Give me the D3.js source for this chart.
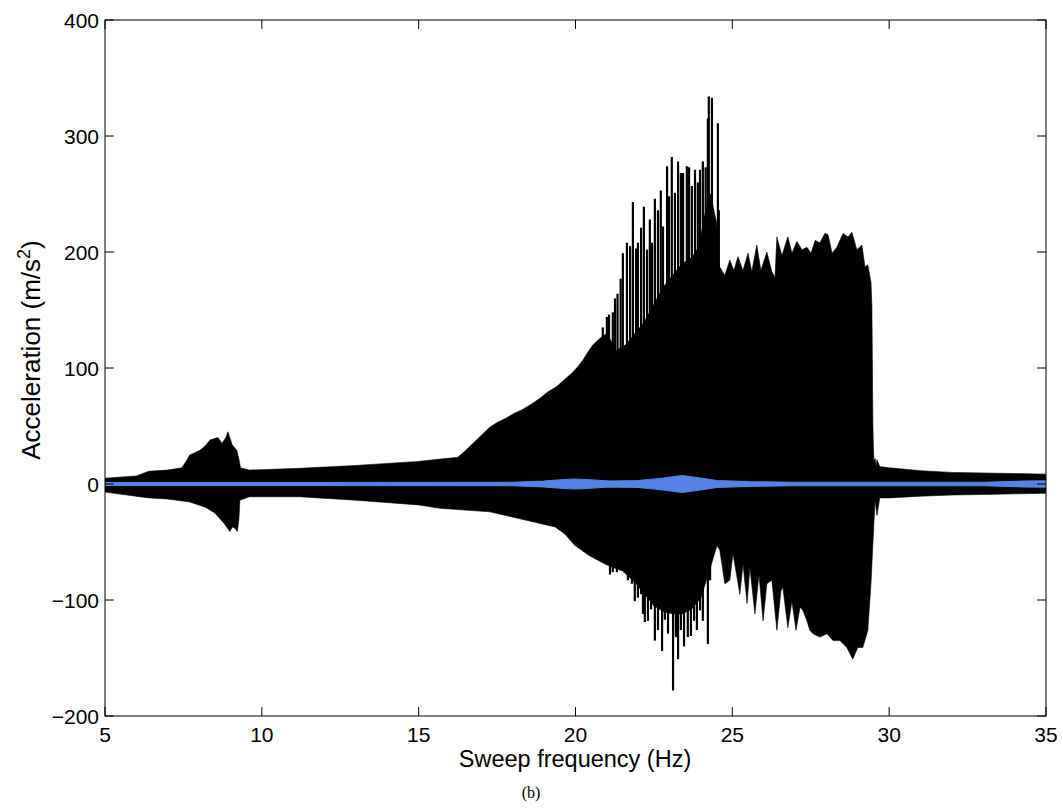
<!DOCTYPE html>
<html>
<head>
<meta charset="utf-8">
<script src="https://cdn.jsdelivr.net/npm/d3@7"></script>
<style>
  body { margin: 0; background: #fff; }
  svg { display: block; }
</style>
</head>
<body>
<script>
// upper envelope of the black (measured) trace, frequency in Hz
const upperFreq = [5.0, 6.0, 6.4, 7.0, 7.45, 7.6, 7.7, 8.03, 8.2, 8.35, 8.6, 8.73, 8.85, 8.92, 9.05, 9.2, 9.28, 9.32, 9.6,
  11.2, 13.0, 15.0, 15.7, 16.25, 16.5, 16.73, 17.0, 17.27, 17.5, 17.8, 18.05, 18.3, 18.6, 18.87, 19.1, 19.4, 19.65, 19.9,
  20.1, 20.24, 20.4, 20.56, 20.8, 21.0, 21.3, 21.6, 21.9, 22.2, 22.5, 22.8, 23.1, 23.4, 23.7, 23.95, 24.1, 24.3, 24.5, 24.57,
  24.60, 24.76, 24.92, 25.05, 25.18, 25.34, 25.50, 25.62, 25.78, 25.91, 26.10, 26.26, 26.36, 26.42, 26.58, 26.77, 26.90,
  27.06, 27.22, 27.38, 27.51, 27.64, 27.79, 27.95, 28.05, 28.18, 28.33, 28.53, 28.69, 28.81, 28.97, 29.13, 29.23, 29.32,
  29.42, 29.45, 29.48, 29.51, 29.55, 29.58, 29.61, 29.7, 30.0, 31.0, 32.0, 33.0, 34.0, 35.0];
const upperVal = [5, 7, 11, 12, 14, 20, 25, 29, 33, 38, 40, 35, 40, 45, 34, 29, 20, 14, 12,
  13.5, 16, 19.5, 21.5, 23, 29, 35, 42, 49, 53, 57, 61, 64, 69, 74, 79, 84, 90, 96,
  102, 107, 114, 120, 126, 130, 115, 120, 130, 140, 155, 170, 180, 190, 195, 205, 230, 250, 225, 190,
  187, 180, 193, 184, 196, 184, 199, 183, 206, 184, 200, 183, 178, 213, 197, 213, 199,
  209, 202, 204, 199, 210, 208, 216, 215, 199, 204, 216, 213, 217, 202, 206, 187, 189,
  174, 153, 52, 20, 22, 15, 21, 15, 14, 11.5, 10, 9.5, 9, 8.5];

// lower envelope of the black trace
const lowerFreq = [5.0, 6.4, 7.0, 7.7, 8.2, 8.5, 8.8, 8.98, 9.06, 9.14, 9.22, 9.27, 9.3, 9.6,
  11.2, 13.0, 15.0, 15.68, 17.27, 18.23, 18.87, 19.35, 19.66, 19.98, 20.46, 20.94, 21.2, 21.5, 21.9, 22.2, 22.5,
  22.8, 23.1, 23.4, 23.7, 24.0, 24.3, 24.51,
  24.60, 24.76, 24.92, 25.02, 25.24, 25.34, 25.47, 25.56, 25.72, 25.85, 25.98, 26.10, 26.26, 26.42, 26.55, 26.61,
  26.77, 26.90, 27.03, 27.16, 27.25, 27.38, 27.47, 27.57, 27.79, 28.02, 28.21, 28.43, 28.65, 28.84, 29.00, 29.16,
  29.32, 29.42, 29.48, 29.55, 29.61, 29.7, 30.0, 31.0, 32.0, 33.0, 34.0, 35.0];
const lowerVal = [-7, -12, -13, -15.5, -20, -25, -34, -41, -37, -38, -41, -30, -14, -11,
  -11, -14, -18, -21, -24, -30, -34, -37, -43, -53, -62, -69, -72, -75, -85, -95, -105,
  -110, -112, -112, -108, -98, -72, -53,
  -57, -86, -83, -60, -95, -69, -103, -72, -112, -78, -118, -86, -83, -126, -92, -89,
  -124, -101, -126, -106, -109, -118, -126, -129, -132, -129, -135, -135, -141, -151, -141, -141,
  -126, -86, -52, -14, -27, -12, -12, -10.5, -9.5, -9, -8.5, -8];

// resonance spikes above the envelope
const spikeFreq = [20.87, 21.0, 21.07, 21.19, 21.26, 21.34, 21.44, 21.51, 21.64, 21.74, 21.83, 21.93, 21.99, 22.09,
  22.18, 22.28, 22.37, 22.44, 22.53, 22.63, 22.72, 22.79, 22.92, 22.98, 23.07, 23.17, 23.27, 23.36, 23.43, 23.55,
  23.62, 23.71, 23.81, 23.90, 23.97, 24.06, 24.15, 24.22, 24.25, 24.35, 24.54, 24.57];
const spikeVal = [135, 144, 146, 148, 160, 164, 177, 199, 208, 205, 243, 203, 208, 221,
  239, 202, 228, 208, 246, 236, 253, 222, 274, 248, 282, 251, 278, 268, 268, 274,
  273, 257, 271, 260, 271, 278, 273, 315, 334, 333, 311, 236];

// dips below the envelope
const dipFreq = [21.10, 21.19, 21.32, 21.42, 21.51, 21.67, 21.80, 21.89, 21.99, 22.09, 22.15, 22.21, 22.31, 22.41,
  22.53, 22.63, 22.76, 22.85, 22.95, 23.11, 23.20, 23.27, 23.36, 23.46, 23.58, 23.68, 23.78, 23.87, 23.97, 24.06,
  24.22, 24.29];
const dipVal = [-78, -76, -76, -72, -70, -83, -86, -101, -98, -95, -112, -119, -118, -108,
  -135, -126, -144, -117, -129, -178, -132, -151, -126, -140, -132, -131, -118, -126, -109, -118,
  -138, -83];

// blue trace, half amplitude
const blueFreq = [5, 18, 19, 19.5, 20.0, 20.5, 21.1, 22.0, 22.8, 23.4, 24.0, 24.5, 25.5, 27, 33, 34.3, 35];
const blueAmp = [1.2, 1.5, 2.5, 3.5, 4.3, 3.5, 2.6, 3, 5, 7.3, 5, 3, 2, 1.5, 1.5, 2.5, 2.8];

const xTicks = [5, 10, 15, 20, 25, 30, 35];
const yTicks = [-200, -100, 0, 100, 200, 300, 400];

const width = 1063, height = 810;
const mLeft = 105, mRight = 1046, mTop = 20, mBottom = 716;

const svg = d3.select("body").append("svg")
  .attr("width", width)
  .attr("height", height);

const x = d3.scaleLinear().domain([5, 35]).range([mLeft, mRight]);
const y = d3.scaleLinear().domain([-200, 400]).range([mBottom, mTop]);

svg.append("clipPath").attr("id", "plot")
  .append("rect")
  .attr("x", mLeft).attr("y", mTop)
  .attr("width", mRight - mLeft).attr("height", mBottom - mTop);

const g = svg.append("g").attr("clip-path", "url(#plot)");

// black envelope as one closed polygon
const pts = upperFreq.map((f, i) => [f, upperVal[i]])
  .concat(lowerFreq.map((f, i) => [f, lowerVal[i]]).reverse());
const line = d3.line().x(d => x(d[0])).y(d => y(d[1]));
g.append("path")
  .attr("d", line(pts) + "Z")
  .attr("fill", "#000")
  .attr("stroke", "#000")
  .attr("stroke-width", 0.6);

// spikes
g.append("g")
  .selectAll("line")
  .data(spikeFreq.map((f, i) => [f, spikeVal[i]]))
  .join("line")
  .attr("x1", d => x(d[0])).attr("x2", d => x(d[0]))
  .attr("y1", y(0)).attr("y2", d => y(d[1]))
  .attr("stroke", "#000")
  .attr("stroke-width", 2.2);

g.append("g")
  .selectAll("line")
  .data(dipFreq.map((f, i) => [f, dipVal[i]]))
  .join("line")
  .attr("x1", d => x(d[0])).attr("x2", d => x(d[0]))
  .attr("y1", y(0)).attr("y2", d => y(d[1]))
  .attr("stroke", "#000")
  .attr("stroke-width", 2.2);

// blue trace
const blueArea = d3.area()
  .x((d, i) => x(blueFreq[i]))
  .y0(d => y(-d))
  .y1(d => y(d));
g.append("path")
  .attr("d", blueArea(blueAmp))
  .attr("fill", "#5482e6")
  .attr("stroke", "#5482e6")
  .attr("stroke-width", 1.2);

// axes, MATLAB style box with inward ticks
const font = "'Liberation Sans', Arial, sans-serif";
const tickLen = 9;

svg.append("rect")
  .attr("x", mLeft).attr("y", mTop)
  .attr("width", mRight - mLeft).attr("height", mBottom - mTop)
  .attr("fill", "none")
  .attr("stroke", "#000")
  .attr("stroke-width", 1);

const axisG = svg.append("g").attr("stroke", "#000").attr("stroke-width", 1);
xTicks.forEach(t => {
  axisG.append("line").attr("x1", x(t)).attr("x2", x(t)).attr("y1", mBottom).attr("y2", mBottom - tickLen);
  axisG.append("line").attr("x1", x(t)).attr("x2", x(t)).attr("y1", mTop).attr("y2", mTop + tickLen);
});
yTicks.forEach(t => {
  axisG.append("line").attr("x1", mLeft).attr("x2", mLeft + tickLen).attr("y1", y(t)).attr("y2", y(t));
  axisG.append("line").attr("x1", mRight).attr("x2", mRight - tickLen).attr("y1", y(t)).attr("y2", y(t));
});

svg.append("g")
  .selectAll("text")
  .data(xTicks)
  .join("text")
  .attr("x", d => x(d))
  .attr("y", mBottom + 26)
  .attr("text-anchor", "middle")
  .attr("font-family", font)
  .attr("font-size", 21)
  .text(d => d);

svg.append("g")
  .selectAll("text")
  .data(yTicks)
  .join("text")
  .attr("x", mLeft - 6)
  .attr("y", d => y(d) + 7.5)
  .attr("text-anchor", "end")
  .attr("font-family", font)
  .attr("font-size", 21)
  .text(d => d < 0 ? "\u2212" + Math.abs(d) : d);

svg.append("text")
  .attr("x", 575)
  .attr("y", 767)
  .attr("text-anchor", "middle")
  .attr("font-family", font)
  .attr("font-size", 23.5)
  .text("Sweep frequency (Hz)");

const yl = svg.append("text")
  .attr("transform", `translate(40,350) rotate(-90)`)
  .attr("text-anchor", "middle")
  .attr("font-family", font)
  .attr("font-size", 26);
yl.append("tspan").text("Acceleration (m/s");
yl.append("tspan").attr("font-size", 18).attr("dy", -10).text("2");
yl.append("tspan").attr("dy", 10).text(")");

svg.append("text")
  .attr("x", 531)
  .attr("y", 798)
  .attr("text-anchor", "middle")
  .attr("font-family", "'Liberation Serif', 'Times New Roman', serif")
  .attr("font-size", 16)
  .text("(b)");
</script>
</body>
</html>
